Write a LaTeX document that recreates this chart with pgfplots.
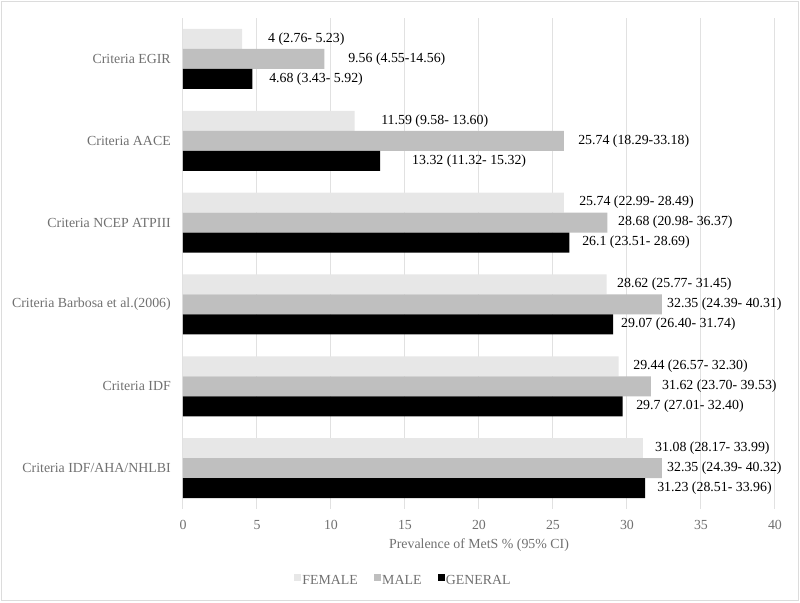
\documentclass[border=0pt]{standalone}
\usepackage{pgfplots}
\pgfplotsset{compat=1.18}
\usepackage{pgfplotstable}
\usepackage{fontspec}
\setmainfont{Liberation Serif}

\definecolor{femc}{RGB}{231,231,231}
\definecolor{malec}{RGB}{191,191,191}
\definecolor{gridc}{RGB}{225,225,225}
\definecolor{txtc}{RGB}{112,112,112}
\definecolor{framec}{RGB}{220,220,220}

\newcommand{\cf}{\fontsize{10.4pt}{12pt}\selectfont}

% y = category position (0 = bottom), val = prevalence, lx = label start, lab = label text
\pgfplotstableread[col sep=comma]{
y,val,lx,lab
5,4,5.74,4 (2.76- 5.23)
4,11.59,13.38,11.59 (9.58- 13.60)
3,25.74,26.76,25.74 (22.99- 28.49)
2,28.62,29.32,28.62 (25.77- 31.45)
1,29.44,30.41,29.44 (26.57- 32.30)
0,31.08,31.89,31.08 (28.17- 33.99)
}\female

\pgfplotstableread[col sep=comma]{
y,val,lx,lab
5,9.56,11.15,9.56 (4.55-14.56)
4,25.74,26.69,25.74 (18.29-33.18)
3,28.68,29.39,28.68 (20.98- 36.37)
2,32.35,32.70,32.35 (24.39- 40.31)
1,31.62,32.36,31.62 (23.70- 39.53)
0,32.35,32.70,32.35 (24.39- 40.32)
}\male

\pgfplotstableread[col sep=comma]{
y,val,lx,lab
5,4.68,5.81,4.68 (3.43- 5.92)
4,13.32,15.47,13.32 (11.32- 15.32)
3,26.1,26.96,26.1 (23.51- 28.69)
2,29.07,29.59,29.07 (26.40- 31.74)
1,29.7,30.61,29.7 (27.01- 32.40)
0,31.23,32.03,31.23 (28.51- 33.96)
}\general

\begin{document}
\begin{tikzpicture}
\path[use as bounding box] (-137.25pt,-70.5pt) rectangle (462.75pt,381.75pt);
\draw[framec, line width=0.75pt] (-135.75pt,-69pt) rectangle (461.25pt,380.25pt);
\begin{axis}[
  at={(0,0)}, anchor=south west,
  scale only axis, width=444pt, height=368.25pt,
  xmin=0, xmax=40, ymin=-0.5, ymax=5.5,
  xtick={0,5,...,40},
  ytick={0,1,2,3,4,5},
  yticklabels={Criteria IDF/AHA/NHLBI, Criteria IDF, Criteria Barbosa et al.(2006), Criteria NCEP ATPIII, Criteria AACE, Criteria EGIR},
  xmajorgrids,
  major grid style={gridc, line width=0.75pt},
  axis line style={draw=none},
  major tick length=0pt,
  clip=false,
  /pgf/number format/assume math mode=true,
  tick label style={font=\cf, text=txtc},
  xticklabel style={anchor=north, inner sep=0pt, yshift=-8pt},
  yticklabel style={anchor=east, inner sep=0pt, xshift=-9pt},
  xlabel={Prevalence of MetS \% (95\% CI)},
  xlabel style={at={(axis description cs:0.5,0)}, anchor=center, yshift=-27pt, font=\cf, text=txtc, inner sep=0pt},
  legend style={at={(axis description cs:0.3716,0)}, anchor=center, yshift=-54pt,
    draw=none, fill=none, font=\cf, text=txtc, inner sep=0pt,
    nodes={inner sep=1pt},
    /tikz/every even column/.append style={column sep=11pt}},
  legend columns=3,
  legend cell align=left,
]
\addplot[xbar, bar width=0.2444, bar shift=0.2444, fill=femc, draw=none,
  legend image code/.code={\fill[femc] (0pt,0pt) rectangle (5.25pt,5.25pt);}]
  table[x=val, y=y] {\female};
\addlegendentry{FEMALE}
\addplot[xbar, bar width=0.2444, bar shift=0, fill=malec, draw=none,
  legend image code/.code={\fill[malec] (0pt,0pt) rectangle (5.25pt,5.25pt);}]
  table[x=val, y=y] {\male};
\addlegendentry{MALE}
\addplot[xbar, bar width=0.2444, bar shift=-0.2444, fill=black, draw=none,
  legend image code/.code={\fill[black] (0pt,0pt) rectangle (5.25pt,5.25pt);}]
  table[x=val, y=y] {\general};
\addlegendentry{GENERAL}

\addplot[draw=none, mark=none, forget plot, nodes near coords, point meta=explicit symbolic,
  nodes near coords style={anchor=west, inner sep=0pt, font=\cf, text=black}]
  table[x=lx, y expr=\thisrow{y}+0.2444, meta=lab] {\female};
\addplot[draw=none, mark=none, forget plot, nodes near coords, point meta=explicit symbolic,
  nodes near coords style={anchor=west, inner sep=0pt, font=\cf, text=black}]
  table[x=lx, y=y, meta=lab] {\male};
\addplot[draw=none, mark=none, forget plot, nodes near coords, point meta=explicit symbolic,
  nodes near coords style={anchor=west, inner sep=0pt, font=\cf, text=black}]
  table[x=lx, y expr=\thisrow{y}-0.2444, meta=lab] {\general};
\end{axis}
\end{tikzpicture}
\end{document}
